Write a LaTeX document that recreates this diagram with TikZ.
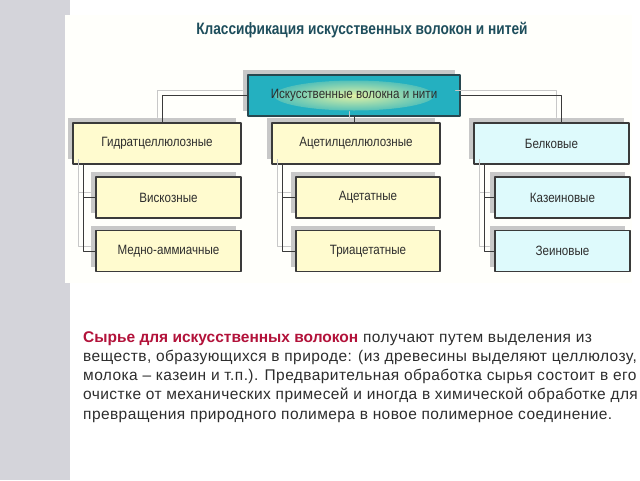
\documentclass[tikz,border=0pt]{standalone}
\usepackage{fontspec}
\setmainfont{Liberation Sans}
\newfontfamily\narrowsans[FakeStretch=0.86]{Liberation Sans}
\newfontfamily\titlesans[FakeStretch=0.83]{Liberation Sans}
\newfontfamily\widesans[LetterSpace=2.7]{Liberation Sans}
\usetikzlibrary{shadows}
\definecolor{stripgray}{RGB}{212,212,218}
\definecolor{paper}{RGB}{255,255,251}
\definecolor{boxline}{RGB}{58,58,58}
\definecolor{boxyellow}{RGB}{255,251,207}
\definecolor{boxcyan}{RGB}{222,250,252}
\definecolor{shadowgray}{RGB}{200,200,200}
\definecolor{tealbox}{RGB}{36,176,192}
\definecolor{tealline}{RGB}{40,72,80}
\definecolor{glow}{RGB}{226,242,164}
\definecolor{titleteal}{RGB}{30,78,92}
\definecolor{darktext}{RGB}{45,45,45}
\definecolor{crimson}{RGB}{178,18,58}
\begin{document}
\begin{tikzpicture}[x=1pt, y=-1pt, line join=round, line cap=round,
	box/.style={draw=boxline, line width=1.1pt, inner sep=0pt, minimum height=41pt,
		text=darktext, font=\narrowsans\fontsize{13.5}{15}\selectfont,
		general shadow={fill=shadowgray, shadow xshift=-5pt, shadow yshift=5pt}},
	yellowbox/.style={box, fill=boxyellow},
	cyanbox/.style={box, fill=boxcyan},
	conn/.style={line width=1pt}]
	\useasboundingbox (0,0) rectangle (640,480);
	% slide background
	\fill[stripgray] (0,0) rectangle (70,480);
	\fill[paper] (65,15) rectangle (632,283);
	\node[text=titleteal, font=\titlesans\bfseries\fontsize{16.5}{19}\selectfont] (title) at (362,30) {Классификация искусственных волокон и нитей};
	% top node
	\node[box, fill=tealbox, draw=tealline, minimum width=212pt,
		path picture={\shade[inner color=glow, outer color=tealbox] (path picture bounding box.center) ellipse (80pt and 15pt);}]
		(fibres) at (354,95.5) {Искусственные волокна и нити};
	% first level
	\node[yellowbox, minimum width=168pt] (hydro) at (157,143.5) {Гидратцеллюлозные};
	\node[yellowbox, minimum width=168pt] (acetyl) at (356,143.5) {Ацетилцеллюлозные};
	\node[cyanbox, minimum width=155pt] (protein) at (551.5,143.5) {Белковые};
	% second level
	\node[yellowbox, minimum width=145pt] (viscose) at (168.5,197.5) {Вискозные};
	\node[yellowbox, minimum width=145pt] (cuprammon) at (168.5,251) {Медно-аммиачные};
	\node[yellowbox, minimum width=144pt] (acetate) at (368,197.5) {Ацетатные};
	\node[yellowbox, minimum width=144pt] (triacetate) at (368,251) {Триацетатные};
	\node[cyanbox, minimum width=135pt] (casein) at (562.5,197.5) {Казеиновые};
	\node[cyanbox, minimum width=135pt] (zein) at (562.5,251) {Зеиновые};
	% connectors, gray copy first
	\foreach \col/\d in {shadowgray/-5, boxline/0}{
		\begin{scope}[transform canvas={shift={(\d,\d)}}, conn, draw=\col]
			\draw (fibres.west) -| ([xshift=5pt]hydro.north);
			\draw (fibres.south) -- (fibres.south |- acetyl.north);
			\draw (fibres.east) -| ([xshift=10pt]protein.north);
			\draw ([xshift=11pt]hydro.south west) |- (viscose.west);
			\draw ([xshift=11pt]hydro.south west) |- (cuprammon.west);
			\draw ([xshift=11pt]acetyl.south west) |- (acetate.west);
			\draw ([xshift=11pt]acetyl.south west) |- (triacetate.west);
			\draw ([xshift=11pt]protein.south west) |- (casein.west);
			\draw ([xshift=11pt]protein.south west) |- (zein.west);
		\end{scope}}
	% text below
	\node[anchor=north west, inner sep=0pt, align=left, text=darktext,
		font=\widesans\fontsize{15.5}{19.3}\selectfont] (rawtext) at (83,331)
		{\textcolor{crimson}{\normalfont\fontsize{15.5}{19.3}\selectfont\bfseries Сырье для искусственных волокон} получают путем выделения из\\
		веществ, образующихся в природе: (из древесины выделяют целлюлозу, из\\
		молока – казеин и т.п.). Предварительная обработка сырья состоит в его\\
		очистке от механических примесей и иногда в химической обработке для\\
		превращения природного полимера в новое полимерное соединение.};
\end{tikzpicture}
\end{document}
